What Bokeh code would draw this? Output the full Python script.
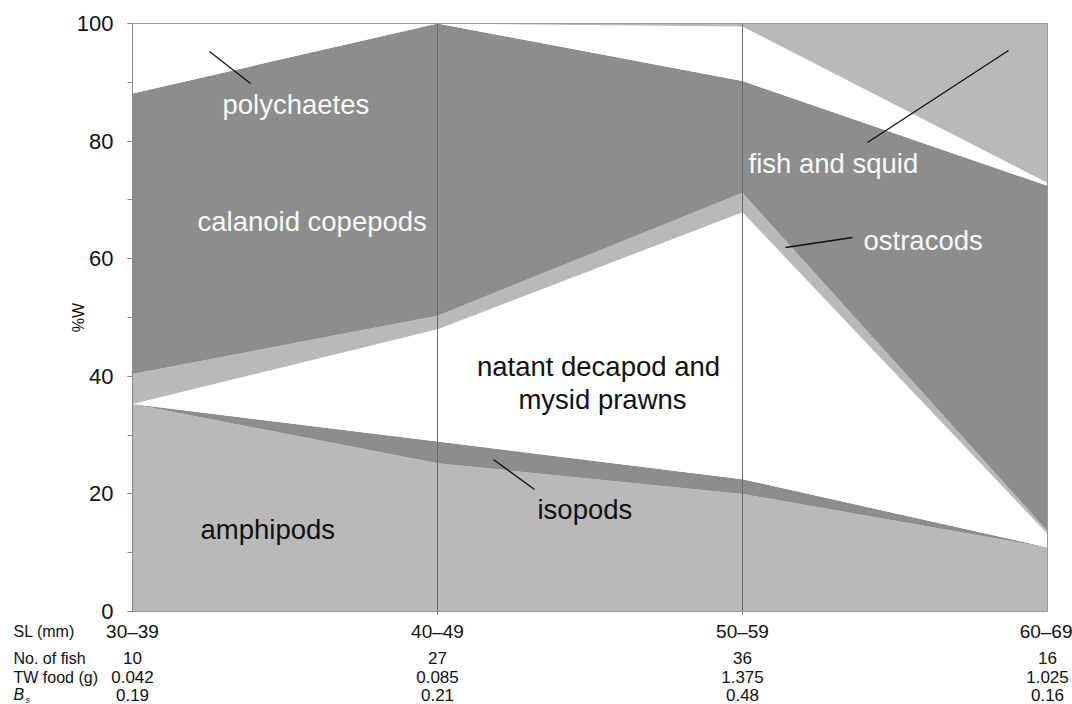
import numpy as np
from bokeh.plotting import figure
from bokeh.models import ColumnDataSource, Range1d, FixedTicker, Label
from bokeh.core.properties import value
from bokeh.embed import file_html
from bokeh.resources import INLINE

# ---- data ----
size_classes = ["30\u201339", "40\u201349", "50\u201359", "60\u201369"]
amphipods = [35.3, 25.2, 20.0, 10.9]
isopods = [0.0, 3.7, 2.5, 0.0]
decapods = [0.0, 19.1, 45.4, 2.3]
ostracods = [5.1, 2.3, 3.3, 0.5]
calanoids = [47.7, 49.7, 19.0, 58.7]
polychaetes = [11.9, 0.0, 9.3, 0.5]
fish_squid = [0.0, 0.0, 0.5, 27.1]

n_fish = ["10", "27", "36", "16"]
tw_food = ["0.042", "0.085", "1.375", "1.025"]
b_s = ["0.19", "0.21", "0.48", "0.16"]

LIGHT = "#b9b9b9"
DARK = "#8d8d8d"
WHITE = "#ffffff"
INK = "#111111"
FONT = "Liberation Sans"

# ---- layout geometry (pixels) ----
W, H = 1072, 704
L, R, T, B = 132, 1047, 23, 611          # plotting box for x 0..3, y 0..100
xs = list(range(len(size_classes)))
sx = (R - L) / (len(xs) - 1)
sy = (B - T) / 100.0
BASE_SHIFT = 0.32                          # em correction for the alphabetic baseline

def dx(px):   # page pixel -> data x
    return (px - L) / sx

def dy(py):   # page pixel -> data y
    return (B - py) / sy

p = figure(width=W, height=H, output_backend="svg", toolbar_location=None,
           x_range=Range1d(dx(0), dx(W)), y_range=Range1d(dy(H), dy(0)),
           min_border_left=0, min_border_right=0, min_border_top=0, min_border_bottom=0)
p.background_fill_color = "white"
p.border_fill_color = "white"
p.outline_line_color = None
p.grid.visible = False

names = ["amphipods", "isopods", "decapods", "ostracods", "calanoids", "polychaetes", "fish_squid"]
source = ColumnDataSource(dict(x=xs, amphipods=amphipods, isopods=isopods, decapods=decapods,
                               ostracods=ostracods, calanoids=calanoids, polychaetes=polychaetes,
                               fish_squid=fish_squid))
colors = [LIGHT, DARK, WHITE, LIGHT, DARK, WHITE, LIGHT]
p.varea_stack(stackers=names, x="x", color=colors, source=source)

# box lines (top and right) and separators between size classes
p.segment(x0=[xs[0], xs[-1]], y0=[100, 0], x1=[xs[-1], xs[-1]], y1=[100, 100],
          line_color="#9a9a9a", line_width=1)
p.segment(x0=xs[1:-1], y0=dy(B + 3), x1=xs[1:-1], y1=100, line_color="#6a6a6a", line_width=1)

# y axis, placed at x = 0
ya = p.yaxis[0]
ya.fixed_location = 0
ya.bounds = (0, 100)
ya.ticker = FixedTicker(ticks=[0, 20, 40, 60, 80, 100], minor_ticks=list(range(0, 101, 10)))
ya.axis_line_color = "#8a8a8a"
ya.major_tick_line_color = "#8a8a8a"
ya.minor_tick_line_color = "#8a8a8a"
ya.major_tick_out = 5
ya.major_tick_in = 0
ya.minor_tick_out = 5
ya.minor_tick_in = 0
ya.major_label_standoff = 14
ya.major_label_text_font = FONT
ya.major_label_text_font_size = "22px"
ya.major_label_text_color = INK

# x axis, placed at y = 0
xa = p.xaxis[0]
xa.fixed_location = 0
xa.bounds = (xs[0], xs[-1])
xa.ticker = FixedTicker(ticks=xs)
xa.major_label_overrides = {i: s for i, s in zip(xs, size_classes)}
xa.axis_line_color = "#9a9a9a"
xa.major_tick_line_color = None
xa.minor_tick_line_color = None
xa.major_tick_out = 0
xa.major_tick_in = 0
xa.major_label_standoff = 9
xa.major_label_text_font = FONT
xa.major_label_text_font_size = "19px"
xa.major_label_text_color = INK

# y axis title
p.add_layout(Label(x=dx(78), y=50, text="%W", angle=np.pi / 2, text_align="center",
                   text_baseline="middle", text_font=FONT, text_font_size="16px",
                   text_color=INK))

def add_text(px, py, text, color=INK, size=27.5, align="left", style="normal"):
    p.add_layout(Label(x=dx(px), y=dy(py - BASE_SHIFT * size), text=text, text_align=align,
                       text_baseline="alphabetic", text_font=FONT,
                       text_font_size=f"{size}px", text_color=color,
                       text_font_style=style))

# in-chart labels (left edge / centre and baseline, in pixels)
add_text(222, 113, "polychaetes", color="#f8f8f8")
add_text(197, 230, "calanoid copepods", color="#f8f8f8")
add_text(598, 375, "natant decapod and", align="center")
add_text(602, 408, "mysid prawns", align="center")
add_text(537, 518, "isopods")
add_text(200, 538, "amphipods")
add_text(748, 172, "fish and squid", color="#f8f8f8")
add_text(863, 249, "ostracods", color="#f8f8f8")

# leader lines
p.segment(x0=[dx(209), dx(867), dx(785), dx(493)], y0=[dy(51), dy(142), dy(247), dy(459)],
          x1=[dx(250), dx(1008), dx(852), dx(534)], y1=[dy(83), dy(50), dy(237), dy(489)],
          line_color=INK, line_width=1.3)

# table below the axis
add_text(13, 636.5, "SL (mm)", size=16)
add_text(13, 662.7, "No. of fish", size=16)
add_text(13, 681.7, "TW food (g)", size=16)
add_text(13, 699, "B", size=16, style="italic")
add_text(25, 702.5, "s", size=9, style="italic")

tsrc = ColumnDataSource(dict(x=xs, n=n_fish, tw=tw_food, bs=b_s))
VAL_SIZE = 17
for col, base in (("n", 662.7), ("tw", 681.7), ("bs", 700)):
    p.text(x="x", y=dy(base - BASE_SHIFT * VAL_SIZE), text=col, source=tsrc,
           text_align="center", text_baseline="alphabetic", text_font=value(FONT),
           text_font_size=f"{VAL_SIZE}px", text_color=INK)

open("out.html", "w").write(file_html(p, INLINE))
